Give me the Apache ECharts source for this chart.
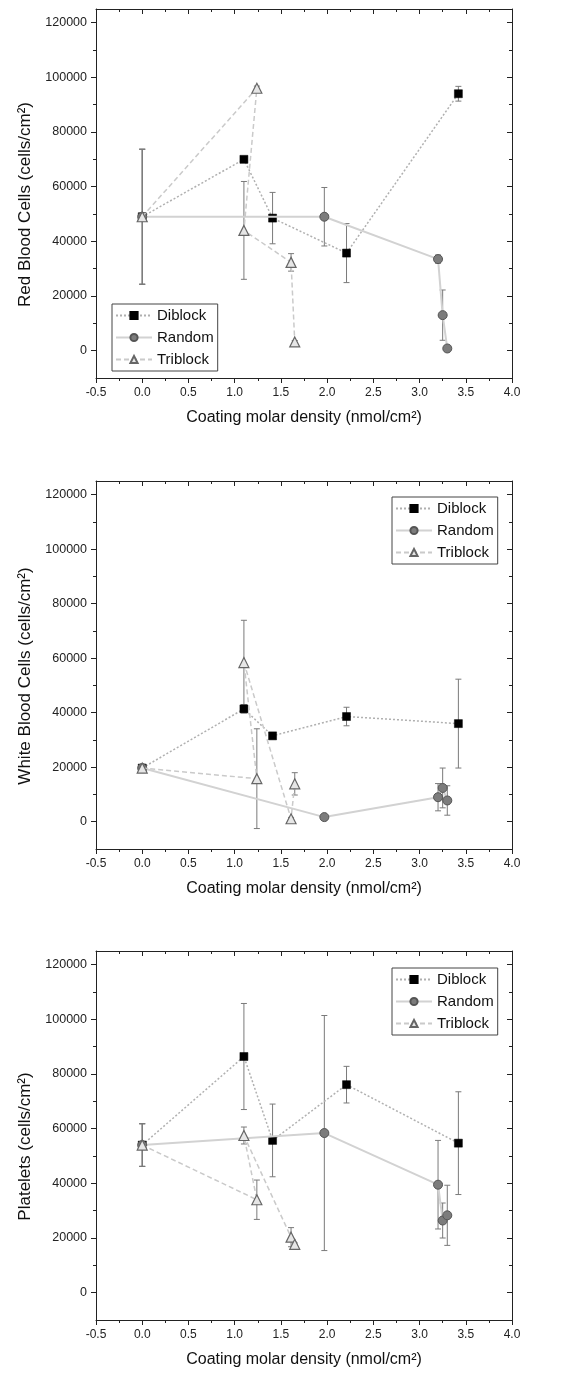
<!DOCTYPE html>
<html>
<head>
<meta charset="utf-8">
<script src="https://cdn.jsdelivr.net/npm/echarts@6/dist/echarts.min.js"></script>
<style>
  html, body { margin: 0; padding: 0; background: #fff; }
  #chart { width: 587px; height: 1383px; }
</style>
</head>
<body>
<div id="chart"></div>
<script>
// Coating densities (nmol/cm²), in the order each series is connected
const diblockX  = [0, 1.1, 1.41, 2.21, 3.42];
const randomX   = [0, 1.97, 3.2, 3.25, 3.3];
const triblockX = [0, 1.24, 1.1, 1.61, 1.65];

// Red blood cells (cells/cm²) and standard deviations
const rbcDiblock     = [49000, 70000, 48500, 35700, 94000];
const rbcDiblockErr  = [24700, 800, 9400, 10800, 2700];
const rbcRandom      = [49000, 49000, 33500, 13000, 800];
const rbcRandomErr   = [24700, 10700, 1500, 9200, 500];
const rbcTriblock    = [49000, 96000, 44000, 32300, 3200];
const rbcTriblockErr = [24700, 800, 17900, 3200, 500];

// White blood cells (cells/cm²)
const wbcDiblock     = [19700, 41400, 31500, 38600, 36000];
const wbcDiblockErr  = [1000, 1500, 1000, 3400, 16300];
const wbcRandom      = [19700, 1700, 9000, 12400, 7800];
const wbcRandomErr   = [1000, 500, 5000, 7300, 5400];
const wbcTriblock    = [19700, 15800, 58400, 1100, 13900];
const wbcTriblockErr = [1000, 18300, 15500, 500, 4100];

// Platelets (cells/cm²)
const pltDiblock     = [54000, 86400, 55700, 76100, 54700];
const pltDiblockErr  = [7800, 19400, 13300, 6700, 18800];
const pltRandom      = [54000, 58400, 39500, 26400, 28300];
const pltRandomErr   = [7800, 43000, 16200, 6400, 11000];
const pltTriblock    = [54000, 34000, 57500, 20300, 17700];
const pltTriblockErr = [7800, 7200, 3100, 3500, 500];

// Axis text
const yTitles = ['Red Blood Cells (cells/cm²)', 'White Blood Cells (cells/cm²)', 'Platelets (cells/cm²)'];
const xTitle = 'Coating molar density (nmol/cm²)';
const seriesNames = ['Diblock', 'Random', 'Triblock'];
const yMajorTicks = [0, 20000, 40000, 60000, 80000, 100000, 120000];
const yMinorTicks = [10000, 30000, 50000, 70000, 90000, 110000];

const panels = [
  { x: [diblockX, randomX, triblockX], y: [rbcDiblock, rbcRandom, rbcTriblock], e: [rbcDiblockErr, rbcRandomErr, rbcTriblockErr] },
  { x: [diblockX, randomX, triblockX], y: [wbcDiblock, wbcRandom, wbcTriblock], e: [wbcDiblockErr, wbcRandomErr, wbcTriblockErr] },
  { x: [diblockX, randomX, triblockX], y: [pltDiblock, pltRandom, pltTriblock], e: [pltDiblockErr, pltRandomErr, pltTriblockErr] }
];

const FONT = "'Liberation Sans', Arial, sans-serif";
const AXIS_COLOR = '#222';
const gridTops = [9, 481, 951];
const gridHeights = [369, 368, 369];
const legendPos = [
  { left: 112, top: 304 },
  { left: 392, top: 497 },
  { left: 392, top: 968 }
];

const markStyles = [
  { symbol: 'rect', symbolSize: 8,
    itemStyle: { color: '#000', borderColor: '#000', borderWidth: 0.5 },
    lineStyle: { color: '#b0b0b0', width: 1.5, type: [2, 2] } },
  { symbol: 'circle', symbolSize: 9,
    itemStyle: { color: '#7c7c7c', borderColor: '#555', borderWidth: 1 },
    lineStyle: { color: '#d2d2d2', width: 2, type: 'solid' } },
  { symbol: 'triangle', symbolSize: 10,
    itemStyle: { color: '#e6e6e6', borderColor: '#666', borderWidth: 1.2 },
    lineStyle: { color: '#cacaca', width: 1.5, type: [5, 3] } }
];

const grid = [], xAxis = [], yAxis = [], series = [], legend = [], graphic = [];

panels.forEach((p, i) => {
  grid.push({ left: 96, width: 416, top: gridTops[i], height: gridHeights[i] });

  const xBase = {
    type: 'value', gridIndex: i, min: -0.5, max: 4.0, interval: 0.5,
    splitLine: { show: false }, minorSplitLine: { show: false },
    axisLine: { show: true, onZero: false, lineStyle: { color: AXIS_COLOR, width: 1 } },
    minorTick: { show: true, splitNumber: 2, length: 3, lineStyle: { color: AXIS_COLOR } }
  };
  xAxis.push(Object.assign({}, xBase, {
    position: 'bottom',
    axisTick: { show: true, inside: false, length: 5, lineStyle: { color: AXIS_COLOR } },
    axisLabel: { formatter: v => v.toFixed(1), fontFamily: FONT, fontSize: 12, color: '#222', margin: 9 },
    name: xTitle, nameLocation: 'middle', nameGap: 32,
    nameTextStyle: { fontFamily: FONT, fontSize: 16, color: '#111' }
  }));
  xAxis.push(Object.assign({}, xBase, {
    position: 'top',
    axisTick: { show: true, inside: true, length: 5, lineStyle: { color: AXIS_COLOR } },
    axisLabel: { show: false }
  }));

  const yBase = {
    type: 'value', gridIndex: i, min: -10000, max: 125000, interval: 10000,
    splitLine: { show: false }
  };
  // left: major ticks + labels
  yAxis.push(Object.assign({}, yBase, {
    position: 'left',
    axisLine: { show: true, onZero: false, lineStyle: { color: AXIS_COLOR, width: 1 } },
    axisTick: { show: true, inside: false, length: 5, customValues: yMajorTicks, lineStyle: { color: AXIS_COLOR } },
    axisLabel: { customValues: yMajorTicks, formatter: v => String(v), fontFamily: FONT, fontSize: 12.5, color: '#222', margin: 9 }
  }));
  // left: minor ticks
  yAxis.push(Object.assign({}, yBase, {
    position: 'left',
    axisLine: { show: false, onZero: false },
    axisTick: { show: true, inside: false, length: 3, customValues: yMinorTicks, lineStyle: { color: AXIS_COLOR } },
    axisLabel: { show: false }
  }));
  // right: mirrored ticks
  yAxis.push(Object.assign({}, yBase, {
    position: 'right',
    axisLine: { show: true, onZero: false, lineStyle: { color: AXIS_COLOR, width: 1 } },
    axisTick: { show: true, inside: true, length: 5, customValues: yMajorTicks, lineStyle: { color: AXIS_COLOR } },
    axisLabel: { show: false }
  }));
  yAxis.push(Object.assign({}, yBase, {
    position: 'right',
    axisLine: { show: false, onZero: false },
    axisTick: { show: true, inside: true, length: 3, customValues: yMinorTicks, lineStyle: { color: AXIS_COLOR } },
    axisLabel: { show: false }
  }));

  // rotated y-axis title
  graphic.push({
    type: 'text', x: 25, y: gridTops[i] + gridHeights[i] / 2 + 11, rotation: Math.PI / 2,
    style: { text: yTitles[i], font: "17px 'Liberation Sans', Arial, sans-serif", fill: '#111',
             textAlign: 'center', textVerticalAlign: 'middle' }
  });

  const xIdx = i * 2, yIdx = i * 4;

  // error bars (drawn beneath markers)
  for (let s = 0; s < 3; s++) {
    const bars = p.x[s].map((xv, j) => [xv, p.y[s][j] - p.e[s][j], p.y[s][j] + p.e[s][j]]);
    series.push({
      type: 'custom', name: seriesNames[s] + ' SD', xAxisIndex: xIdx, yAxisIndex: yIdx,
      data: bars, z: 2, silent: true,
      renderItem: (params, api) => {
        const xv = api.value(0);
        const lo = api.coord([xv, api.value(1)]);
        const hi = api.coord([xv, api.value(2)]);
        const c = 3;
        const st = { stroke: '#7a7a7a', lineWidth: 1 };
        return {
          type: 'group',
          children: [
            { type: 'line', shape: { x1: lo[0], y1: lo[1], x2: hi[0], y2: hi[1] }, style: st },
            { type: 'line', shape: { x1: lo[0] - c, y1: lo[1], x2: lo[0] + c, y2: lo[1] }, style: st },
            { type: 'line', shape: { x1: hi[0] - c, y1: hi[1], x2: hi[0] + c, y2: hi[1] }, style: st }
          ]
        };
      }
    });
  }

  // connected data series
  for (let s = 0; s < 3; s++) {
    const m = markStyles[s];
    series.push({
      type: 'line', name: seriesNames[s], xAxisIndex: xIdx, yAxisIndex: yIdx,
      data: p.x[s].map((xv, j) => [xv, p.y[s][j]]),
      symbol: m.symbol, symbolSize: m.symbolSize, showAllSymbol: true,
      itemStyle: m.itemStyle, lineStyle: m.lineStyle,
      z: 3 + s, silent: true
    });
  }

  legend.push({
    data: seriesNames, orient: 'vertical',
    left: legendPos[i].left, top: legendPos[i].top,
    itemWidth: 36, itemHeight: 9, itemGap: 5,
    padding: [3, 4, 3, 3],
    borderColor: '#444', borderWidth: 1, borderRadius: 0,
    backgroundColor: '#fff',
    selectedMode: false,
    textStyle: { fontFamily: FONT, fontSize: 15, color: '#111', lineHeight: 17 }
  });
});

const chart = echarts.init(document.getElementById('chart'), null, { renderer: 'canvas' });
chart.setOption({
  animation: false,
  backgroundColor: '#fff',
  grid, xAxis, yAxis, series, legend, graphic
});
</script>
</body>
</html>
